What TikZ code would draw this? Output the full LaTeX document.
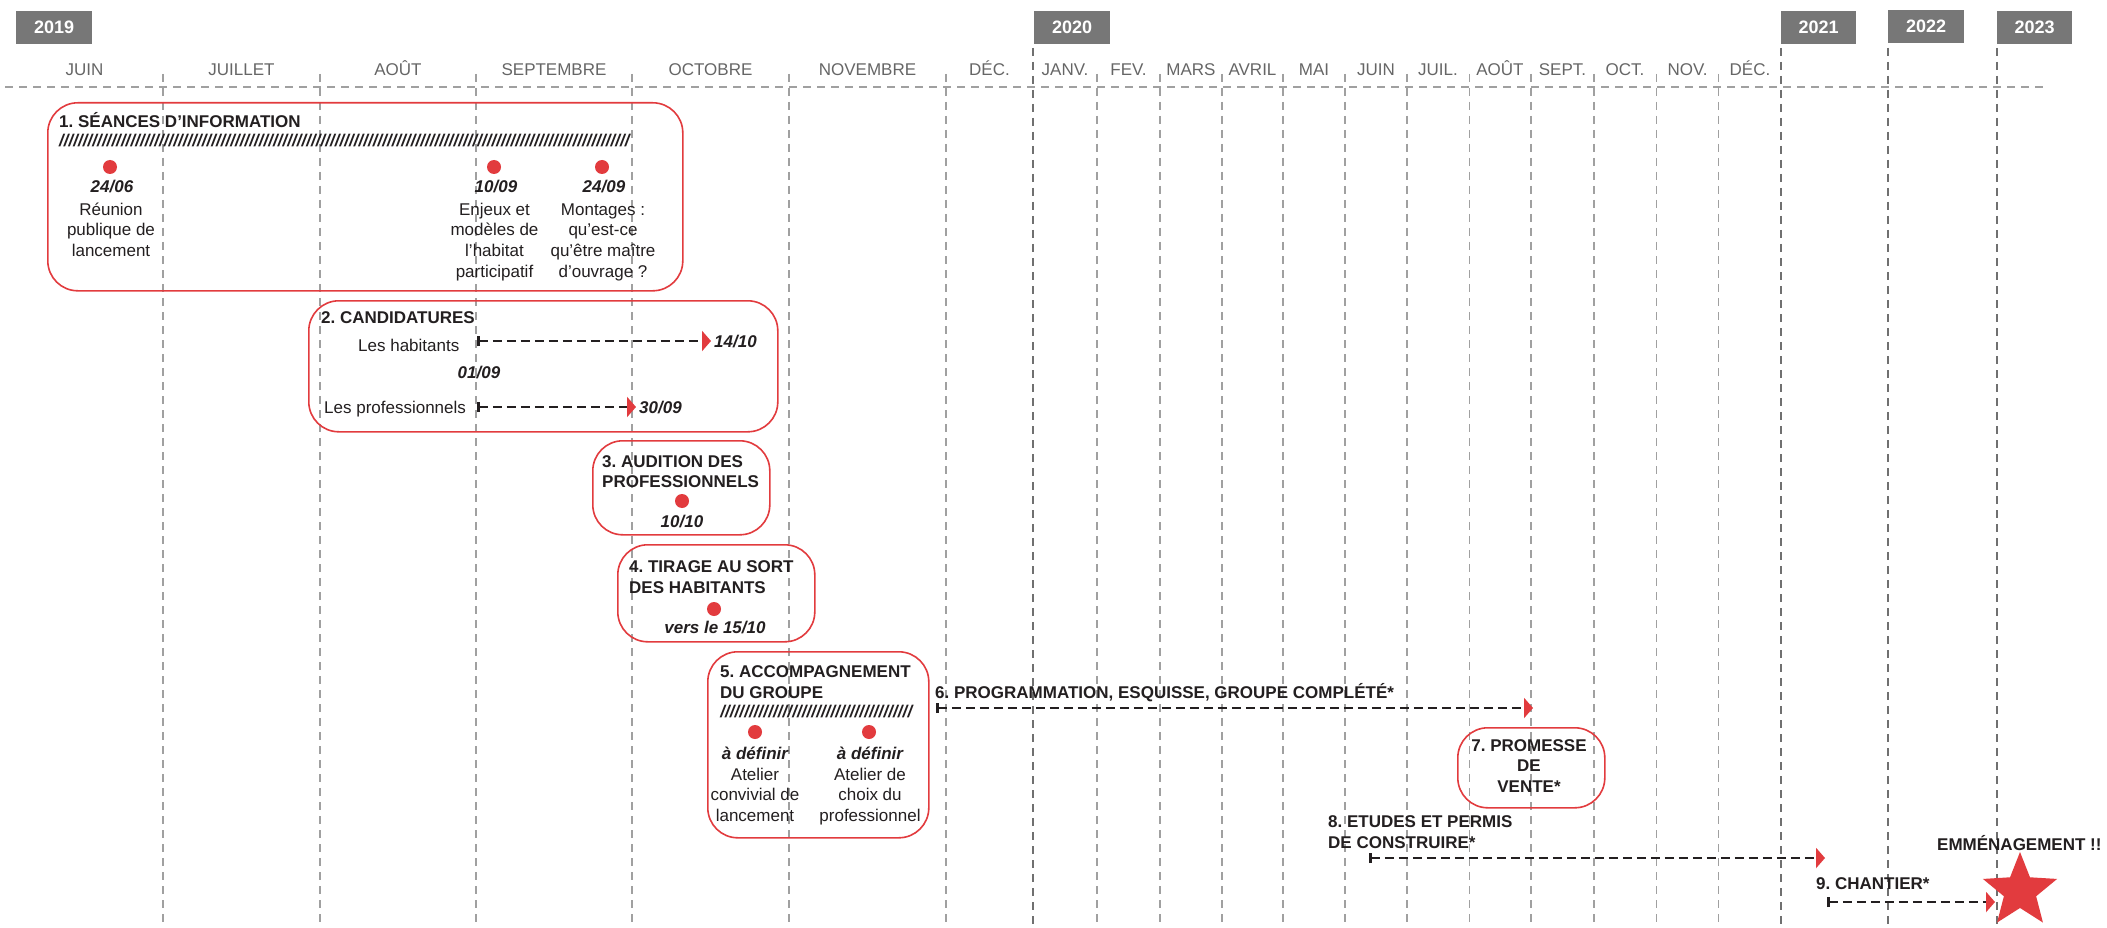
\documentclass[tikz,border=0pt]{standalone}
\usepackage{fontspec}
\setmainfont{Liberation Sans}
\usetikzlibrary{arrows.meta,shapes.geometric}
\definecolor{myred}{HTML}{E23B3E}
\definecolor{ink}{HTML}{231F20}
\definecolor{yeargray}{HTML}{777777}
\definecolor{monthgray}{HTML}{666666}
\definecolor{gridgray}{HTML}{A0A0A0}
\definecolor{gridyear}{HTML}{707070}
\newcommand\mylines[1]{\begin{tabular}[t]{@{}c@{}}#1\end{tabular}}
\newcommand\hatchline[1]{\hbox to #1{\xleaders\hbox{/}\hfill}}
\frenchspacing
\begin{document}
\begin{tikzpicture}[x=1pt,y=-1pt,
  txt/.style={inner sep=0pt, text=ink, font=\fontsize{17}{20.7}\selectfont},
  ttl/.style={txt, font=\fontsize{17}{20.7}\selectfont\bfseries, anchor=base west},
  ttlc/.style={txt, font=\fontsize{17}{20.7}\selectfont\bfseries, anchor=base},
  body/.style={txt, anchor=base},
  bodyw/.style={txt, anchor=base west},
  datel/.style={txt, font=\fontsize{17}{20.7}\selectfont\bfseries\itshape, anchor=base},
  datew/.style={datel, anchor=base west},
  hatch/.style={txt, font=\fontsize{17}{20.7}\selectfont\bfseries\itshape, anchor=base west},
  month/.style={inner sep=0pt, text=monthgray, font=\fontsize{17}{20}\selectfont, anchor=base},
  yearbox/.style={fill=yeargray, text=white, font=\fontsize{18}{20}\selectfont\bfseries, minimum width=76pt, minimum height=33pt, inner sep=0pt, anchor=north west},
  redbox/.style={draw=myred, line width=1.6pt, rounded corners=30pt, inner sep=0pt, anchor=north west},
  dot/.style={circle, fill=myred, minimum size=14pt, inner sep=0pt},
  gridm/.style={draw=gridgray, line width=1.2pt, dash pattern=on 8pt off 6pt},
  gridy/.style={draw=gridyear, line width=1.8pt, dash pattern=on 8pt off 6pt},
  timearrow/.style={draw=ink, line width=2.3pt, dash pattern=on 9pt off 5pt,
    arrows={Bar[width=10pt,line width=2.6pt]-Triangle[length=9pt,width=20pt,color=myred]}},
]
\useasboundingbox (0,0) rectangle (2107,928);
\fill[white] (0,0) rectangle (2107,928);

% grid
\foreach \x in {163,320,476,632,789,946,1097,1160,1222,1283,1345,1407,1469.5,1531,1594,1656.5,1718.7}
  \draw[gridm] (\x,74) -- (\x,928);
\foreach \x in {1033,1781,1888,1997}
  \draw[gridy] (\x,48) -- (\x,928);
\draw[gridm] (5,87) -- (2048,87);

% years
\node[yearbox] (y2019) at (16,11) {2019};
\node[yearbox] (y2020) at (1034,11) {2020};
\node[yearbox, minimum width=75pt] (y2021) at (1781,11) {2021};
\node[yearbox] (y2022) at (1888,10) {2022};
\node[yearbox, minimum width=75pt] (y2023) at (1997,11) {2023};

% months
\node[month] (m1) at (84.5,76) {JUIN};
\node[month] (m2) at (241.5,76) {JUILLET};
\node[month] (m3) at (398,76) {AOÛT};
\node[month] (m4) at (554,76) {SEPTEMBRE};
\node[month] (m5) at (710.5,76) {OCTOBRE};
\node[month] (m6) at (867.5,76) {NOVEMBRE};
\node[month] (m7) at (989.5,76) {DÉC.};
\node[month] (n1) at (1065,76) {JANV.};
\node[month] (n2) at (1128.5,76) {FEV.};
\node[month] (n3) at (1191,76) {MARS};
\node[month] (n4) at (1252.5,76) {AVRIL};
\node[month] (n5) at (1314,76) {MAI};
\node[month] (n6) at (1376,76) {JUIN};
\node[month] (n7) at (1438,76) {JUIL.};
\node[month] (n8) at (1500,76) {AOÛT};
\node[month] (n9) at (1562.5,76) {SEPT.};
\node[month] (n10) at (1625,76) {OCT.};
\node[month] (n11) at (1687.5,76) {NOV.};
\node[month] (n12) at (1750,76) {DÉC.};

% box 1
\node[redbox, minimum width=635pt, minimum height=188pt] (b1) at (47,102) {};
\node[ttl] (t1) at (59,128) {1. SÉANCES D’INFORMATION};
\node[hatch] (h1) at (59,147) {\hatchline{570pt}};
\node[dot] (d11) at (110,167) {};
\node[dot] (d12) at (494,167) {};
\node[dot] (d13) at (602,167) {};
\node[datel] (e11) at (112,193) {24/06};
\node[datel] (e12) at (496,193) {10/09};
\node[datel] (e13) at (604,193) {24/09};
\node[body] (x11) at (111,215) {\mylines{Réunion\\publique de\\lancement}};
\node[body] (x12) at (494.5,215) {\mylines{Enjeux et\\modèles de\\l’habitat\\participatif}};
\node[body] (x13) at (603,215) {\mylines{Montages :\\qu’est-ce\\qu’être maître\\d’ouvrage ?}};

% box 2
\node[redbox, minimum width=469pt, minimum height=131pt] (b2) at (308,300) {};
\node[ttl] (t2) at (321,323) {2. CANDIDATURES};
\node[bodyw] (l21) at (358,351) {Les habitants};
\node[bodyw] (l22) at (324,413) {Les professionnels};
\node[datel] (e20) at (479,378) {01/09};
\coordinate (a21s) at (477,341);
\coordinate (a21e) at (711,341);
\coordinate (a22s) at (477,407);
\coordinate (a22e) at (636,407);
\draw[timearrow] (a21s) -- (a21e);
\draw[timearrow] (a22s) -- (a22e);
\node[datew] (e21) at (714,347) {14/10};
\node[datew] (e22) at (639,413) {30/09};

% box 3
\node[redbox, minimum width=177pt, minimum height=94pt] (b3) at (592,440) {};
\node[ttl] (t3) at (602,467) {3. AUDITION DES};
\node[ttl] (t3b) at (602,487) {PROFESSIONNELS};
\node[dot] (d3) at (682,501) {};
\node[datel] (e3) at (682,527) {10/10};

% box 4
\node[redbox, minimum width=197pt, minimum height=97pt] (b4) at (617,544) {};
\node[ttl] (t4) at (629,572) {4. TIRAGE AU SORT};
\node[ttl] (t4b) at (629,593) {DES HABITANTS};
\node[dot] (d4) at (714,609) {};
\node[datel] (e4) at (715,633) {vers le 15/10};

% box 5
\node[redbox, minimum width=221pt, minimum height=186pt] (b5) at (707,651) {};
\node[ttl] (t5) at (720,677) {5. ACCOMPAGNEMENT};
\node[ttl] (t5b) at (720,698) {DU GROUPE};
\node[hatch] (h5) at (720,717) {\hatchline{192pt}};
\node[dot] (d51) at (755,732) {};
\node[dot] (d52) at (869,732) {};
\node[datel] (e51) at (755,759) {à définir};
\node[datel] (e52) at (870,759) {à définir};
\node[body] (x51) at (755,780) {\mylines{Atelier\\convivial de\\lancement}};
\node[body] (x52) at (870,780) {\mylines{Atelier de\\choix du\\professionnel}};

% 6
\node[ttl] (t6) at (935,698) {6. PROGRAMMATION, ESQUISSE, GROUPE COMPLÉTÉ*};
\coordinate (a6s) at (936,708);
\coordinate (a6e) at (1533,708);
\draw[timearrow] (a6s) -- (a6e);

% 7
\node[redbox, minimum width=147pt, minimum height=80pt] (b7) at (1457,727) {};
\node[ttlc] (t7) at (1529,751) {\mylines{7. PROMESSE\\DE\\VENTE*}};

% 8
\node[ttl] (t8) at (1328,827) {8. ETUDES ET PERMIS};
\node[ttl] (t8b) at (1328,848) {DE CONSTRUIRE*};
\coordinate (a8s) at (1369,858);
\coordinate (a8e) at (1825,858);
\draw[timearrow] (a8s) -- (a8e);

% 9 and star
\node[ttl] (t9) at (1816,889) {9. CHANTIER*};
\node[ttl] (tem) at (1937,850) {EMMÉNAGEMENT !!};
\node[star, star points=5, star point ratio=2.3, fill=myred, minimum size=78pt, inner sep=0pt] (star) at (2020,891) {};
\coordinate (a9s) at (1827,902);
\coordinate (a9e) at (1995,902);
\draw[timearrow] (a9s) -- (a9e);
\end{tikzpicture}
\end{document}
